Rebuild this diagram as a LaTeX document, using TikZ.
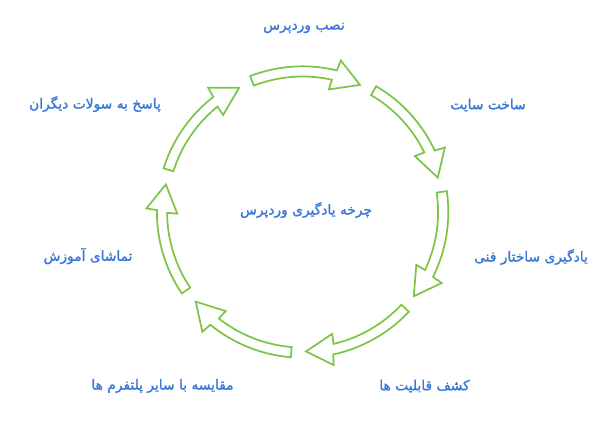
\documentclass[tikz,border=0pt]{standalone}
\usepackage{fontspec}
\usetikzlibrary{calc}
\TeXXeTstate=1
\newfontfamily\fa[Script=Arabic,FakeBold=1.4]{DejaVu Sans}
\definecolor{arrowgreen}{RGB}{124,197,68}
\definecolor{labelblue}{RGB}{58,120,216}
\tikzset{
  arrowshape/.style={draw=arrowgreen, line width=1.7pt, fill=white, line join=miter},
  lbl/.style={text=labelblue, font=\fa\fontsize{13.8}{15}\selectfont, inner sep=0pt, anchor=center}
}
\begin{document}
\begin{tikzpicture}[x=1pt,y=1pt]
\useasboundingbox (0,0) rectangle (615,-424);
\fill[white] (0,0) rectangle (615,-424);
\coordinate (c) at (302.6,-212);
\foreach \k in {0,...,6}{
  \pgfmathsetmacro\t{65.7-51.4286*\k}
  \pgfmathsetmacro\ta{\t+45.4}
  \pgfmathsetmacro\bo{\t+10.1}
  \pgfmathsetmacro\no{\t+10.7}
  \pgfmathsetmacro\ni{\t+11.8}
  \pgfmathsetmacro\bi{\t+12.2}
  \draw[arrowshape] ($(c)+(\ta:145.7)$) arc[start angle=\ta, end angle=\no, radius=145.7]
    -- ($(c)+(\bo:156.2)$) -- ($(c)+(\t:139.5)$) -- ($(c)+(\bi:125.4)$)
    -- ($(c)+(\ni:135.5)$) arc[start angle=\ni, end angle=\ta, radius=135.5] -- cycle;
}
\node[lbl] (center) at (306,-210) {\beginR چرخه یادگیری وردپرس\endR};
\node[lbl] (l1) at (304,-28) {\beginR نصب وردپرس\endR};
\node[lbl] (l2) at (488,-105) {\beginR ساخت سایت\endR};
\node[lbl] (l3) at (531,-257) {\beginR یادگیری ساختار فنی\endR};
\node[lbl] (l4) at (424.5,-386) {\beginR کشف قابلیت ها\endR};
\node[lbl] (l5) at (162.5,-386) {\beginR مقایسه با سایر پلتفرم ها\endR};
\node[lbl] (l6) at (88,-256) {\beginR تماشای آموزش\endR};
\node[lbl] (l7) at (95,-104) {\beginR پاسخ به سولات دیگران\endR};
\end{tikzpicture}
\end{document}
